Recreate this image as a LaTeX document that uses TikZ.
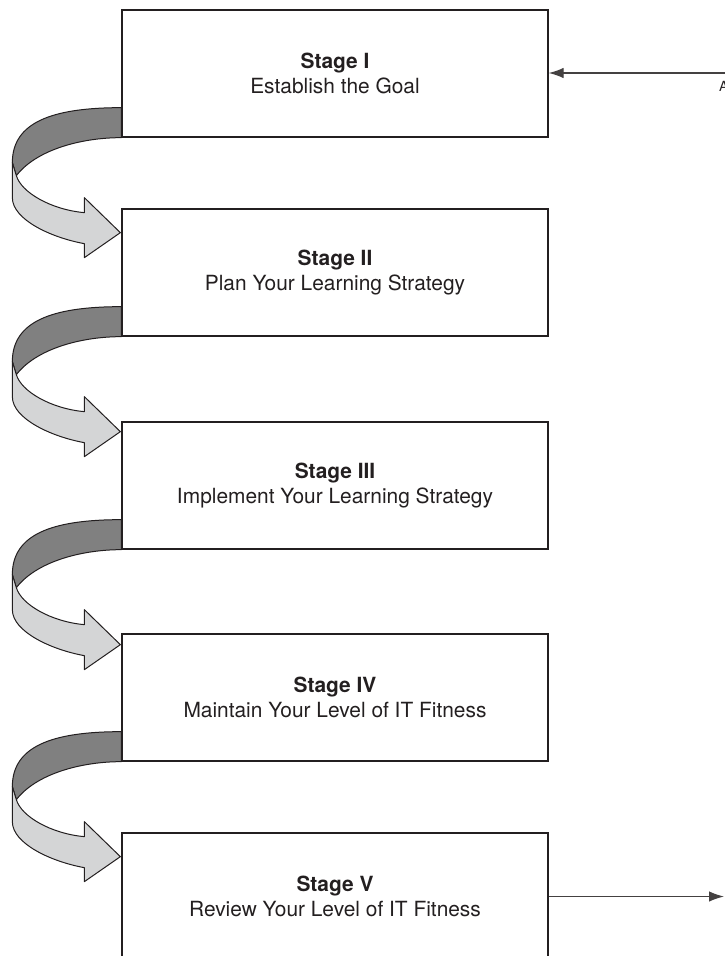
\documentclass[tikz,border=0pt]{standalone}
\usepackage{fontspec}
\setmainfont{TeX Gyre Heros}
\usetikzlibrary{arrows.meta}

\definecolor{ink}{HTML}{231F20}
\definecolor{ribbonback}{HTML}{808080}
\definecolor{ribbonfront}{HTML}{D4D5D6}

\tikzset{
  stagebox/.style={draw=ink, line width=1.3pt, minimum width=426pt,
    minimum height=127pt, inner sep=0pt, align=center, text=ink,
    font=\fontsize{20.9}{25}\selectfont},
  conn/.style={draw=ink!85, line width=1.3pt,
    -{Latex[length=15pt,width=10.5pt]}},
  ribbonline/.style={draw=ink, line width=1pt, line join=round},
  % twisted ribbon arrow leading from one stage box into the next;
  % placed at the lower-left corner of the upper box
  ribbonarrow/.pic={
    % back (dark) face of the ribbon
    \path[ribbonline, fill=ribbonback]
      (0,-30) .. controls (-70,-30) and (-109,-15) .. (-109,25)
      -- (-105,38) .. controls (-85,12) and (-40,0) .. (0,0) -- cycle;
    % front (light) face with the arrow head
    \path[ribbonline, fill=ribbonfront]
      (-109,25) -- (-109,60)
      .. controls (-109,82) and (-70,100) .. (-37,106)
      -- (-37,120) -- (-1,95) -- (-37,60) -- (-37,75)
      .. controls (-70,72) and (-100,55) .. (-105,38) -- cycle;
  }
}

\begin{document}
\begin{tikzpicture}[x=1pt, y=-1pt]
  \useasboundingbox (0,0) rectangle (724,956);

  % the five stages
  \node[stagebox] (s1) at (335,73.5)  {\textbf{Stage I}\\Establish the Goal};
  \node[stagebox] (s2) at (335,272.5) {\textbf{Stage II}\\Plan Your Learning Strategy};
  \node[stagebox] (s3) at (335,485.5) {\textbf{Stage III}\\Implement Your Learning Strategy};
  \node[stagebox] (s4) at (335,697.5) {\textbf{Stage IV}\\Maintain Your Level of IT Fitness};
  \node[stagebox] (s5) at (335,896.5) {\textbf{Stage V}\\Review Your Level of IT Fitness};

  % ribbons between consecutive stages
  \pic at (s1.south west) {ribbonarrow};
  \pic at (s2.south west) {ribbonarrow};
  \pic at (s3.south west) {ribbonarrow};
  \pic at (s4.south west) {ribbonarrow};

  % feedback in and out on the right
  \coordinate (inR) at (740,73);
  \coordinate (outR) at (724,896.5);
  \node[anchor=base west, inner sep=0pt, text=ink,
        font=\fontsize{14}{16}\selectfont] (lblA) at (719,91) {A};
  \draw[conn] (inR) -- (s1.east |- inR);
  \draw[conn] (s5.east) -- (outR);
\end{tikzpicture}
\end{document}
